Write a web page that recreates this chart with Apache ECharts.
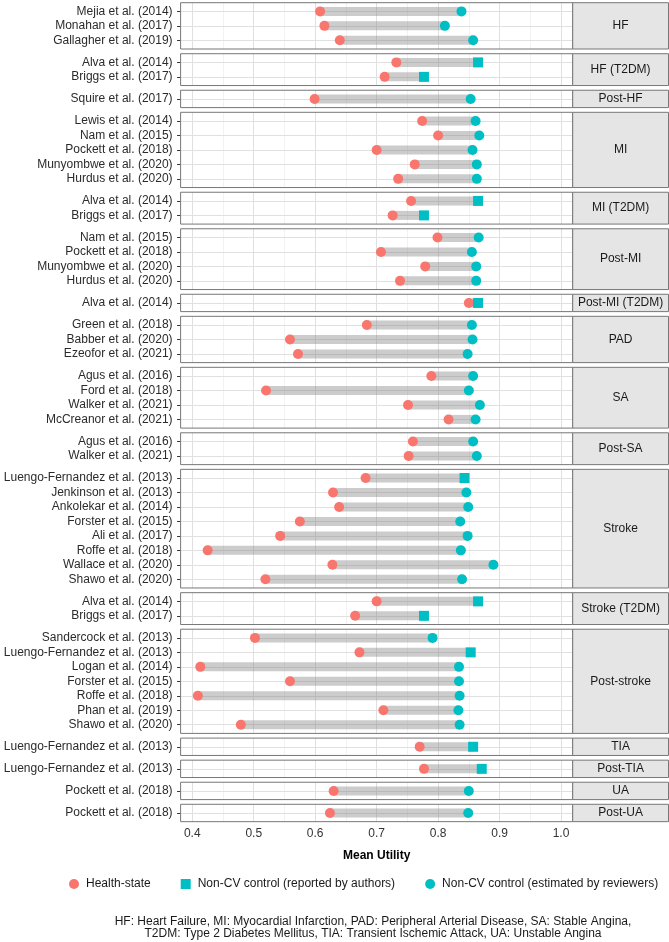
<!DOCTYPE html>
<html>
<head>
<meta charset="utf-8">
<title>Mean Utility</title>
<script src="https://cdn.jsdelivr.net/npm/echarts@6/dist/echarts.min.js"></script>
</head>
<body style="margin:0;background-color:#fff">
<div id="chart" style="width:669px;height:942px"></div>
<script type="text/javascript">
// panels (health states) and their studies
var panels = ['HF', 'HF (T2DM)', 'Post-HF', 'MI', 'MI (T2DM)', 'Post-MI', 'Post-MI (T2DM)', 'PAD', 'SA', 'Post-SA',
  'Stroke', 'Stroke (T2DM)', 'Post-stroke', 'TIA', 'Post-TIA', 'UA', 'Post-UA'];

var studies = [
  ['Mejia et al. (2014)', 'Monahan et al. (2017)', 'Gallagher et al. (2019)'],
  ['Alva et al. (2014)', 'Briggs et al. (2017)'],
  ['Squire et al. (2017)'],
  ['Lewis et al. (2014)', 'Nam et al. (2015)', 'Pockett et al. (2018)', 'Munyombwe et al. (2020)', 'Hurdus et al. (2020)'],
  ['Alva et al. (2014)', 'Briggs et al. (2017)'],
  ['Nam et al. (2015)', 'Pockett et al. (2018)', 'Munyombwe et al. (2020)', 'Hurdus et al. (2020)'],
  ['Alva et al. (2014)'],
  ['Green et al. (2018)', 'Babber et al. (2020)', 'Ezeofor et al. (2021)'],
  ['Agus et al. (2016)', 'Ford et al. (2018)', 'Walker et al. (2021)', 'McCreanor et al. (2021)'],
  ['Agus et al. (2016)', 'Walker et al. (2021)'],
  ['Luengo-Fernandez et al. (2013)', 'Jenkinson et al. (2013)', 'Ankolekar et al. (2014)', 'Forster et al. (2015)',
   'Ali et al. (2017)', 'Roffe et al. (2018)', 'Wallace et al. (2020)', 'Shawo et al. (2020)'],
  ['Alva et al. (2014)', 'Briggs et al. (2017)'],
  ['Sandercock et al. (2013)', 'Luengo-Fernandez et al. (2013)', 'Logan et al. (2014)', 'Forster et al. (2015)',
   'Roffe et al. (2018)', 'Phan et al. (2019)', 'Shawo et al. (2020)'],
  ['Luengo-Fernandez et al. (2013)'],
  ['Luengo-Fernandez et al. (2013)'],
  ['Pockett et al. (2018)'],
  ['Pockett et al. (2018)']
];

var healthState = [
  [0.608, 0.615, 0.640],
  [0.732, 0.713],
  [0.599],
  [0.774, 0.800, 0.700, 0.762, 0.735],
  [0.756, 0.726],
  [0.799, 0.707, 0.779, 0.738],
  [0.850],
  [0.684, 0.559, 0.572],
  [0.789, 0.520, 0.751, 0.817],
  [0.759, 0.752],
  [0.682, 0.629, 0.639, 0.575, 0.543, 0.425, 0.628, 0.519],
  [0.700, 0.665],
  [0.502, 0.672, 0.413, 0.559, 0.409, 0.711, 0.479],
  [0.770],
  [0.777],
  [0.630],
  [0.624]
];

var control = [
  [0.838, 0.811, 0.857],
  [0.865, 0.777],
  [0.853],
  [0.861, 0.867, 0.856, 0.863, 0.863],
  [0.865, 0.777],
  [0.866, 0.855, 0.862, 0.862],
  [0.865],
  [0.855, 0.856, 0.848],
  [0.857, 0.850, 0.868, 0.861],
  [0.857, 0.863],
  [0.843, 0.846, 0.849, 0.836, 0.848, 0.837, 0.890, 0.839],
  [0.865, 0.777],
  [0.791, 0.853, 0.834, 0.834, 0.835, 0.833, 0.835],
  [0.857],
  [0.871],
  [0.850],
  [0.849]
];

// 1 = control reported by authors (square), 0 = estimated by reviewers (circle)
var reported = [
  [0, 0, 0],
  [1, 1],
  [0],
  [0, 0, 0, 0, 0],
  [1, 1],
  [0, 0, 0, 0],
  [1],
  [0, 0, 0],
  [0, 0, 0, 0],
  [0, 0],
  [1, 0, 0, 0, 0, 0, 0, 0],
  [1, 1],
  [0, 1, 0, 0, 0, 0, 0],
  [1],
  [1],
  [0],
  [0]
];

var xTicks = [0.4, 0.5, 0.6, 0.7, 0.8, 0.9, 1.0];
var xMinor = [0.45, 0.55, 0.65, 0.75, 0.85, 0.95];
var legendNames = ['Health-state', 'Non-CV control (reported by authors)', 'Non-CV control (estimated by reviewers)'];
var notes = ['HF: Heart Failure, MI: Myocardial Infarction, PAD: Peripheral Arterial Disease, SA: Stable Angina,',
  'T2DM: Type 2 Diabetes Mellitus, TIA: Transient Ischemic Attack, UA: Unstable Angina'];

// layout
var font = "'Liberation Sans', Arial, sans-serif";
var plotLeft = 180.6, plotRight = 572.7, stripRight = 668.5;
var rowH = 14.47, gap = 4.7, top0 = 2.7;
var xMin = 0.381, xMax = 1.019;
var red = '#F8766D', teal = '#00BFC4';

var grids = [], xAxes = [], yAxes = [], series = [], graphics = [];
var panelTop = top0;

panels.forEach(function (p, k) {
  var n = studies[k].length;
  var h = (n + 0.2) * rowH;
  var last = (k === panels.length - 1);
  var names = studies[k];
  var rows = names.map(function (s, i) { return i; });

  grids.push({ left: plotLeft, top: panelTop, width: plotRight - plotLeft, height: h, show: false });

  xAxes.push({
    type: 'value', gridIndex: k, min: xMin, max: xMax, show: last,
    axisLine: { show: false },
    splitLine: { show: false },
    axisTick: { show: true, length: 3.5, customValues: xTicks, lineStyle: { color: '#333' } },
    axisLabel: { customValues: xTicks, margin: 6, fontSize: 12, fontFamily: font, color: '#333',
      formatter: function (v) { return v.toFixed(1); } },
    name: last ? 'Mean Utility' : '', nameLocation: 'middle', nameGap: 28,
    nameTextStyle: { fontWeight: 'bold', fontSize: 12, fontFamily: font, color: '#000' }
  });

  yAxes.push({
    type: 'value', gridIndex: k, inverse: true, min: -0.6, max: n - 0.4,
    axisLine: { show: false },
    splitLine: { show: false },
    axisTick: { show: true, length: 3.5, customValues: rows, lineStyle: { color: '#333' } },
    axisLabel: { customValues: rows, margin: 8, fontSize: 12, fontFamily: font, color: '#2b2b2b',
      formatter: function (v) { return names[Math.round(v)]; } }
  });

  // grid lines
  var gl = [];
  xMinor.forEach(function (v) { gl.push({ xAxis: v, lineStyle: { color: '#efefef', width: 0.8, type: 'solid' } }); });
  xTicks.forEach(function (v) { gl.push({ xAxis: v, lineStyle: { color: '#e0e0e0', width: 1, type: 'solid' } }); });
  rows.forEach(function (i) { gl.push({ yAxis: i, lineStyle: { color: '#e0e0e0', width: 1, type: 'solid' } }); });
  series.push({
    type: 'line', xAxisIndex: k, yAxisIndex: k, data: [], silent: true, z: 1,
    markLine: { silent: true, z: 1, symbol: ['none', 'none'], label: { show: false }, animation: false, data: gl }
  });

  // gray range bars
  series.push({
    type: 'custom', xAxisIndex: k, yAxisIndex: k, z: 2, silent: true,
    data: rows.map(function (i) { return [healthState[k][i], control[k][i], i]; }),
    encode: { x: [0, 1], y: 2 },
    renderItem: function (params, api) {
      var a = api.coord([api.value(0), api.value(2)]);
      var b = api.coord([api.value(1), api.value(2)]);
      return { type: 'rect', shape: { x: a[0], y: a[1] - 4.5, width: b[0] - a[0], height: 9 },
        style: { fill: 'rgba(128,128,128,0.4)' } };
    }
  });

  series.push({
    name: legendNames[0], type: 'scatter', xAxisIndex: k, yAxisIndex: k, z: 3,
    symbol: 'circle', symbolSize: 10, itemStyle: { color: red, opacity: 1 },
    data: rows.map(function (i) { return [healthState[k][i], i]; })
  });
  series.push({
    name: legendNames[1], type: 'scatter', xAxisIndex: k, yAxisIndex: k, z: 4,
    symbol: 'rect', symbolSize: 10, itemStyle: { color: teal, opacity: 1 },
    data: rows.filter(function (i) { return reported[k][i] === 1; }).map(function (i) { return [control[k][i], i]; })
  });
  series.push({
    name: legendNames[2], type: 'scatter', xAxisIndex: k, yAxisIndex: k, z: 4,
    symbol: 'circle', symbolSize: 10, itemStyle: { color: teal, opacity: 1 },
    data: rows.filter(function (i) { return reported[k][i] === 0; }).map(function (i) { return [control[k][i], i]; })
  });

  // panel border and strip
  graphics.push({ type: 'rect', z: 100, silent: true,
    shape: { x: plotLeft, y: panelTop, width: plotRight - plotLeft, height: h },
    style: { fill: 'none', stroke: '#777', lineWidth: 1 } });
  graphics.push({ type: 'rect', z: 100, silent: true,
    shape: { x: plotRight, y: panelTop, width: stripRight - plotRight, height: h },
    style: { fill: '#e5e5e5', stroke: '#777', lineWidth: 1 } });
  graphics.push({ type: 'text', z: 101, silent: true,
    x: (plotRight + stripRight) / 2, y: panelTop + h / 2,
    style: { text: p, align: 'center', verticalAlign: 'middle', fontSize: 12, fontFamily: font, fill: '#1a1a1a' } });

  panelTop += h + gap;
});

notes.forEach(function (t, i) {
  graphics.push({ type: 'text', silent: true, x: 373, y: 921.7 + i * 11.7,
    style: { text: t, align: 'center', verticalAlign: 'middle', fontSize: 12, fontFamily: font, fill: '#1a1a1a' } });
});

var myChart = echarts.init(document.getElementById('chart'));
myChart.setOption({
  animation: false,
  grid: grids,
  xAxis: xAxes,
  yAxis: yAxes,
  series: series,
  legend: {
    left: 69, top: 878, width: 600, padding: 0, itemWidth: 14, itemHeight: 10, itemGap: 30,
    symbolKeepAspect: true,
    textStyle: { fontSize: 12, fontFamily: font, color: '#1a1a1a' },
    data: [
      { name: legendNames[0], icon: 'circle' },
      { name: legendNames[1], icon: 'path://M0,0L10,0L10,10L0,10Z' },
      { name: legendNames[2], icon: 'circle' }
    ]
  },
  graphic: graphics
});
</script>
</body>
</html>
